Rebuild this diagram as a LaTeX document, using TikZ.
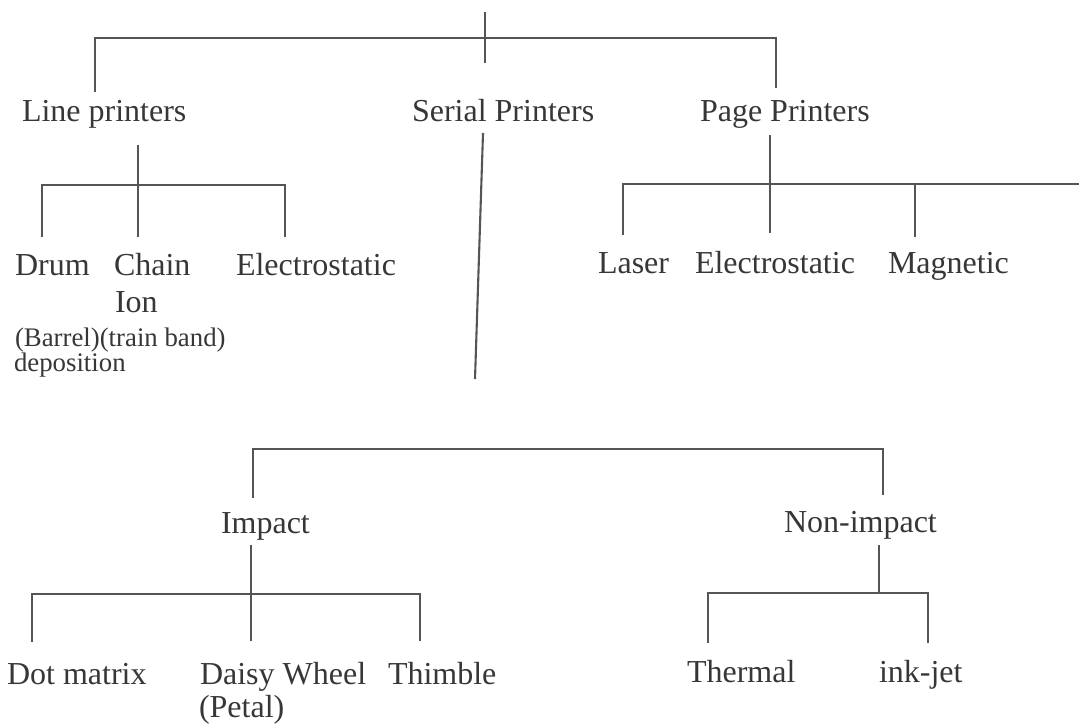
\documentclass[tikz,border=0pt]{standalone}
\usepackage{fontspec}
\setmainfont{Liberation Serif}
\definecolor{ink}{RGB}{55,55,55}
\definecolor{rule}{RGB}{85,85,85}
\begin{document}
\begin{tikzpicture}[x=0.5pt,y=-0.5pt,
  lbl/.style={anchor=base west,inner sep=0pt,outer sep=0pt,text=ink,font=\fontsize{16}{18}\selectfont},
  sml/.style={anchor=base west,inner sep=0pt,outer sep=0pt,text=ink,font=\fontsize{13.4}{15}\selectfont},
  conn/.style={draw=rule,line width=1.05pt}]
\useasboundingbox[fill=white] (0,0) rectangle (1079,725);

% ---------- text nodes ----------
\node[lbl] (line)   at (22,121)  {Line printers};
\node[lbl] (serial) at (412,121) {Serial Printers};
\node[lbl] (page)   at (700,121) {Page Printers};

\node[lbl] (drum)   at (15,275)  {Drum};
\node[lbl] (chain)  at (114,275) {Chain};
\node[lbl] (elA)    at (236,275) {Electrostatic};
\node[lbl] (ion)    at (115,312) {Ion};
\node[sml] (barrel) at (15,346)  {(Barrel)(train band)};
\node[sml] (depo)   at (14,371)  {deposition};

\node[lbl] (laser)  at (598,273) {Laser};
\node[lbl] (elB)    at (695,273) {Electrostatic};
\node[lbl] (magn)   at (888,273) {Magnetic};

\node[lbl] (impact) at (221,533) {Impact};
\node[lbl] (nonimp) at (784,532) {Non-impact};

\node[lbl] (dot)    at (7,684)   {Dot matrix};
\node[lbl] (daisy)  at (200,684) {Daisy Wheel};
\node[lbl] (thimb)  at (388,684) {Thimble};
\node[lbl] (petal)  at (199,717) {(Petal)};
\node[lbl] (therm)  at (687,682) {Thermal};
\node[lbl] (inkjet) at (879,682) {ink-jet};

% ---------- connector end points ----------
\coordinate (rootT) at (485,12);
\coordinate (rootB) at (485,63);
\coordinate (topL)  at (95,38);
\coordinate (topR)  at (776,38);
\coordinate (lineD) at (95,92);
\coordinate (pageD) at (776,88);

\coordinate (lineS) at (138,145);
\coordinate (lineE) at (138,237);
\coordinate (lpL)   at (42,185);
\coordinate (lpR)   at (285,185);
\coordinate (drumD) at (42,237);
\coordinate (elAD)  at (285,237);

\coordinate (serS)  at (483,133);
\coordinate (serE)  at (475,379);

\coordinate (pageS) at (770,135);
\coordinate (pageE) at (770,233);
\coordinate (ppL)   at (623,184);
\coordinate (ppR)   at (1079,184);
\coordinate (lasD)  at (623,235);
\coordinate (magT)  at (915,184);
\coordinate (magD)  at (915,237);

\coordinate (snL)   at (253,449);
\coordinate (snR)   at (883,449);
\coordinate (impD)  at (253,498);
\coordinate (nonD)  at (883,495);

\coordinate (impS)  at (251,545);
\coordinate (impE)  at (251,641);
\coordinate (ipL)   at (32,594);
\coordinate (ipR)   at (420,594);
\coordinate (dotD)  at (32,642);
\coordinate (thiD)  at (420,641);

\coordinate (nonS)  at (879,545);
\coordinate (npM)   at (879,593);
\coordinate (npL)   at (708,593);
\coordinate (npR)   at (928,593);
\coordinate (theD)  at (708,643);
\coordinate (inkD)  at (928,643);

% ---------- connectors ----------
\draw[conn] (rootT) -- (rootB);
\draw[conn] (lineD) -- (topL) -- (topR) -- (pageD);

\draw[conn] (lineS) -- (lineE);
\draw[conn] (drumD) -- (lpL) -- (lpR) -- (elAD);

\draw[conn] (serS) -- (serE);

\draw[conn] (pageS) -- (pageE);
\draw[conn] (lasD) -- (ppL) -- (ppR);
\draw[conn] (magT) -- (magD);

\draw[conn] (impD) -- (snL) -- (snR) -- (nonD);

\draw[conn] (impS) -- (impE);
\draw[conn] (dotD) -- (ipL) -- (ipR) -- (thiD);

\draw[conn] (nonS) -- (npM);
\draw[conn] (theD) -- (npL) -- (npR) -- (inkD);
\end{tikzpicture}
\end{document}
